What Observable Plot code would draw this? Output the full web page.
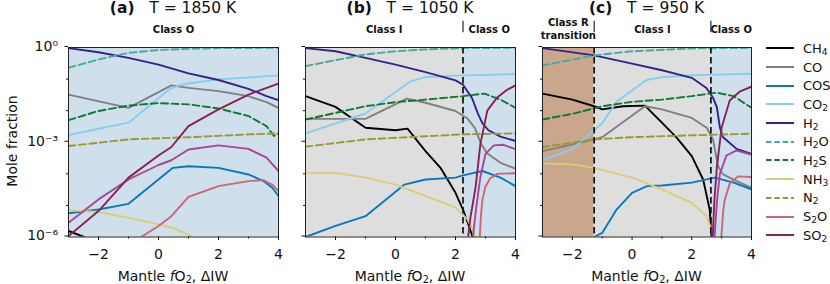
<!DOCTYPE html>
<html><head><meta charset="utf-8">
<script src="https://cdn.jsdelivr.net/npm/d3@7"></script>
<script src="https://cdn.jsdelivr.net/npm/@observablehq/plot@0.6"></script>
<style>
body{margin:0;background:#fff;font-family:"DejaVu Sans",sans-serif;color:#111;}
#wrap{position:relative;width:830px;height:284px;overflow:hidden;}
.panel{position:absolute;top:0;}
.title{position:absolute;top:0px;font-size:15.5px;line-height:17px;white-space:pre;transform:translateX(-50%);}
.xlab{position:absolute;top:267px;font-size:14px;line-height:18px;white-space:nowrap;transform:translateX(-50%);}
.ylab{position:absolute;left:12px;top:141px;font-size:14px;white-space:nowrap;transform:translate(-50%,-50%) rotate(-90deg);}
sub{font-size:70%;vertical-align:-0.25em;line-height:0;}
#legend{position:absolute;left:766px;top:39px;font-size:13px;}
#legend .row{height:18.7px;display:flex;align-items:center;}
#legend svg{margin-right:9px;}
</style></head>
<body><div id="wrap"></div>
<script>
// ---------- data: [ΔIW, log10(mole fraction)] ----------
const xTicks = [-2, 0, 2, 4];
const yTicks = [1, 1e-3, 1e-6];
const species = ["CH4","CO","COS","CO2","H2","H2O","H2S","NH3","N2","S2O","S2","SO2"];
const legendSpecies = ["CH4","CO","COS","CO2","H2","H2O","H2S","NH3","N2","S2O","SO2"];
const legendLabels = ["CH<sub>4</sub>","CO","COS","CO<sub>2</sub>","H<sub>2</sub>","H<sub>2</sub>O","H<sub>2</sub>S","NH<sub>3</sub>","N<sub>2</sub>","S<sub>2</sub>O","SO<sub>2</sub>"];
const titles = ["(a)", "(b)", "(c)"];
const temps = ["T = 1850 K", "T = 1050 K", "T = 950 K"];

// Panel (a) T = 1850 K
const a_CH4 = [[-3,-5.81],[-2.48,-6]];
const a_CO  = [[-3,-1.49],[-1,-1.91],[0.43,-1.20],[1,-1.28],[2,-1.38],[3,-1.54],[3.6,-1.73],[4,-1.91]];
const a_COS = [[-3,-5.25],[-2,-5.13],[-1,-4.95],[0.48,-3.81],[1,-3.76],[2,-3.81],[3,-4.02],[3.5,-4.23],[3.8,-4.45],[4,-4.70]];
const a_CO2 = [[-3,-2.77],[-1,-2.38],[0.4,-1.30],[0.7,-1.20],[1,-1.14],[2,-1.01],[3,-0.95],[4,-0.88]];
const a_H2  = [[-3,-0.02],[-2,-0.15],[-1,-0.33],[0,-0.54],[1,-0.82],[2,-1.03],[3,-1.31],[3.6,-1.54],[4,-1.67]];
const a_H2O = [[-3,-0.64],[-2,-0.38],[-1,-0.17],[0,-0.08],[1,-0.04],[2,-0.02],[4,-0.01]];
const a_H2S = [[-3,-2.30],[-2,-2.01],[-1,-1.84],[0,-1.76],[1,-1.80],[2,-1.93],[3,-2.17],[3.6,-2.49],[3.85,-2.80],[4,-2.72]];
const a_NH3 = [[-3,-5.15],[-2,-5.21],[-1,-5.39],[0,-5.60],[0.5,-5.71],[1.15,-6]];
const a_N2  = [[-3,-3.12],[-1,-2.91],[1,-2.84],[3,-2.75],[4,-2.72]];
const a_S2O = [[-0.58,-6],[0,-5.65],[0.43,-5.34],[1,-4.73],[2,-4.39],[3,-4.23],[3.5,-4.20],[3.8,-4.35],[4,-4.55]];
const a_S2  = [[-3,-5.55],[-2,-4.81],[-1,-4.18],[0,-3.72],[0.43,-3.57],[1,-3.23],[2,-3.10],[3,-3.21],[3.6,-3.49],[4,-3.91]];
const a_SO2 = [[-3,-5.97],[-2,-5.18],[-1,-4.12],[0,-3.42],[0.43,-3.15],[1,-2.49],[2,-1.96],[3,-1.49],[4,-1.14]];

// Panel (b) T = 1050 K
const b_CH4 = [[-3,-1.54],[-2,-1.88],[-1,-2.54],[0,-2.62],[0.4,-2.57],[1,-3.28],[1.5,-3.81],[2,-4.60],[2.25,-5.13],[2.45,-5.66],[2.57,-6]];
const b_CO  = [[-3,-2.26],[-1,-2.26],[0.38,-1.62],[1,-1.75],[2,-2.01],[2.4,-2.25],[2.65,-2.55],[2.85,-3.05],[3.05,-3.35],[3.5,-3.65],[4,-3.84]];
const b_COS = [[-3,-6],[-2,-5.65],[-1,-5.34],[0.3,-4.34],[1,-4.18],[2,-4.12],[2.25,-4.05],[2.9,-3.91],[3.5,-4.12],[4,-4.39]];
const b_CO2 = [[-3,-2.72],[-1,-2.09],[0.5,-1.07],[1,-0.94],[2,-0.89],[4,-0.84]];
const b_H2  = [[-3,-0.02],[-2,-0.12],[-1,-0.33],[0,-0.54],[1,-0.78],[2,-1.04],[2.25,-1.18],[2.55,-1.60],[2.75,-2.10],[2.9,-2.40],[3.1,-2.62],[3.5,-2.82],[4,-2.96]];
const b_H2O = [[-3,-0.59],[-2,-0.40],[-1,-0.22],[0,-0.12],[1,-0.06],[2.25,-0.02],[4,-0.01]];
const b_H2S = [[-3,-2.28],[-2,-2.07],[-1,-1.86],[0,-1.73],[1,-1.65],[2.25,-1.54],[2.96,-1.46],[3.5,-1.65],[4,-1.91]];
const b_NH3 = [[-3,-3.97],[-2,-3.97],[-1,-4.12],[0,-4.34],[1,-4.70],[2,-5.07],[2.4,-5.44],[2.68,-6]];
const b_N2  = [[-3,-3.14],[-1,-2.91],[1,-2.81],[2.25,-2.75],[4,-2.72]];
const b_S2O = [[2.81,-6],[2.85,-5.3],[2.9,-4.8],[3.0,-4.4],[3.15,-4.15],[3.4,-4.0],[4,-3.98]];
const b_S2  = [[2.58,-6],[2.7,-5.0],[2.83,-4.1],[3.0,-3.37],[3.28,-3.10],[3.6,-3.08],[4,-3.22]];
const b_SO2 = [[2.42,-6],[2.5,-5.37],[2.67,-4.42],[2.83,-3.05],[3.06,-2.0],[3.39,-1.58],[3.7,-1.35],[4,-1.20]];

// Panel (c) T = 950 K
const c_CH4 = [[-3,-1.46],[-2,-1.65],[-1.27,-1.86],[-1,-1.96],[-0.3,-1.86],[0.43,-1.84],[1,-2.38],[1.5,-2.86],[2,-3.44],[2.38,-4.18],[2.6,-5.13],[2.66,-6]];
const c_CO  = [[-3,-3.28],[-1.27,-2.91],[-1,-2.84],[0.43,-1.86],[1,-1.96],[2,-2.23],[2.5,-2.54],[2.71,-2.91],[2.88,-3.76],[3.05,-4.02],[3.5,-4.23],[4,-4.44]];
const c_COS = [[-1.27,-6],[-1,-5.87],[-0.52,-5.13],[0,-4.6],[0.5,-4.39],[1,-4.37],[2,-4.28],[2.77,-4.12],[3.4,-4.28],[4,-4.49]];
const c_CO2 = [[-3,-3.57],[-2,-3.21],[-1,-2.40],[-0.52,-1.72],[0.48,-1.03],[1,-0.94],[2,-0.88],[4,-0.83]];
const c_H2  = [[-3,-0.02],[-1.27,-0.25],[0,-0.51],[1,-0.72],[2,-0.96],[2.49,-1.28],[2.71,-1.59],[2.84,-1.89],[2.94,-2.53],[3.05,-2.84],[3.5,-3.21],[4,-3.37]];
const c_H2O = [[-3,-0.57],[-1.27,-0.25],[0,-0.12],[2,-0.03],[4,-0.01]];
const c_H2S = [[-3,-2.28],[-2,-2.10],[-1,-1.86],[0,-1.72],[1,-1.65],[2,-1.54],[2.83,-1.43],[3.4,-1.54],[4,-1.91]];
const c_NH3 = [[-3,-3.67],[-2,-3.70],[-1.27,-3.81],[0,-4.12],[1,-4.49],[2,-4.92],[2.49,-5.34],[2.66,-5.76],[2.72,-6]];
const c_N2  = [[-3,-3.15],[-1.27,-2.91],[0,-2.84],[2,-2.78],[4,-2.73]];
const c_S2O = [[2.99,-6],[3.05,-5.2],[3.1,-4.84],[3.27,-4.31],[3.55,-4.08],[4,-4.10]];
const c_S2  = [[2.76,-6],[2.85,-4.8],[2.94,-4.0],[3.16,-3.42],[3.5,-3.26],[4,-3.39]];
const c_SO2 = [[2.7,-6],[2.76,-4.8],[2.84,-3.79],[3.0,-2.53],[3.27,-1.68],[3.6,-1.40],[4,-1.24]];

// regime regions (ΔIW bounds) and boundaries
const regionsA = [{cls:"O", x1:-3, x2:4, label:"Class O"}];
const regionsB = [{cls:"I", x1:-3, x2:2.25, label:"Class I"},{cls:"O", x1:2.25, x2:4, label:"Class O"}];
const regionsC = [{cls:"R", x1:-3, x2:-1.27, label:"Class R\ntransition"},{cls:"I", x1:-1.27, x2:2.64, label:"Class I"},{cls:"O", x1:2.64, x2:4, label:"Class O"}];
const boundsA = [];
const boundsB = [2.25];
const boundsC = [-1.27, 2.64];

// ---------- styles ----------
const colors = {CH4:"#000000",CO:"#808080",COS:"#0b78bb",CO2:"#88ccee",H2:"#332288",H2O:"#44aa99",H2S:"#117733",NH3:"#ddcc77",N2:"#999933",S2O:"#cc6677",S2:"#aa4499",SO2:"#882255"};
const dashedSet = new Set(["H2O","H2S","N2"]);
const bg = {O:"#cfdfeb", I:"#dedede", R:"#c9a68c"};

const seriesA = {CH4:a_CH4,CO:a_CO,COS:a_COS,CO2:a_CO2,H2:a_H2,H2O:a_H2O,H2S:a_H2S,NH3:a_NH3,N2:a_N2,S2O:a_S2O,S2:a_S2,SO2:a_SO2};
const seriesB = {CH4:b_CH4,CO:b_CO,COS:b_COS,CO2:b_CO2,H2:b_H2,H2O:b_H2O,H2S:b_H2S,NH3:b_NH3,N2:b_N2,S2O:b_S2O,S2:b_S2,SO2:b_SO2};
const seriesC = {CH4:c_CH4,CO:c_CO,COS:c_COS,CO2:c_CO2,H2:c_H2,H2O:c_H2O,H2S:c_H2S,NH3:c_NH3,N2:c_N2,S2O:c_S2O,S2:c_S2,SO2:c_SO2};

const supMap = {"0":"⁰","3":"³","6":"⁶","-":"⁻"};
const fmtY = d => "10" + String(Math.round(Math.log10(d))).split("").map(c => supMap[c] || c).join("");
const fmtX = d => d < 0 ? "−" + (-d) : String(d);

function makePanel(series, regions, bounds, {width, ml, mr, showY}) {
  const marks = [
    Plot.rect(regions, {x1:"x1", x2:"x2", y1:() => 1e-6, y2:() => 1, fill: d => bg[d.cls]})
  ];
  for (const s of species) {
    const rows = series[s].map(([x, ly]) => ({x, y: Math.pow(10, ly)}));
    marks.push(Plot.line(rows, {x:"x", y:"y", stroke: colors[s], strokeWidth: 1.9,
      strokeDasharray: dashedSet.has(s) ? "7,3.5" : null, clip: true, strokeLinejoin:"round"}));
  }
  marks.push(
    Plot.ruleX(bounds, {x: d => d, stroke:"#111", strokeWidth:1.7, strokeDasharray:"6.5,3.5"}),
    Plot.frame({stroke:"#222", strokeWidth:1}),
    Plot.axisY({ticks: yTicks, tickSize: 3.5, tickPadding: 7, tickFormat: showY ? fmtY : () => "", label: null, fontSize: 14, dy: -1}),
    Plot.axisY({ticks: [1e-1,1e-2,1e-4,1e-5], tickSize: 2, tickFormat: () => "", label: null}),
    Plot.axisX({ticks: xTicks, tickSize: 3.5, tickPadding: 8.5, tickFormat: fmtX, label: null, fontSize: 14}),
    Plot.axisX({ticks: [-1,1,3], tickSize: 2, tickFormat: () => "", label: null}),
    Plot.text(regions, {x: d => (d.x1 + d.x2) / 2, text: "label", frameAnchor: "top", dy: -19,
      lineAnchor: "middle", fontWeight: "bold", fontSize: 10, lineHeight: 1.25, fill: "#111"}),
    // small "|" markers above the frame at each regime boundary
    Plot.ruleX(bounds, {x: d => d, y1: () => Math.pow(10, 0.47), y2: () => Math.pow(10, 0.83), stroke: "#111", strokeWidth: 1.1})
  );
  return Plot.plot({
    width, height: 284, marginLeft: ml, marginRight: mr, marginTop: 47, marginBottom: 47.5,
    x: {domain: [-3, 4]},
    y: {type: "log", domain: [1e-6, 1]},
    style: {background: "transparent", overflow: "visible", fontFamily: "DejaVu Sans", fontSize: "14px", color: "#111"},
    marks
  });
}

const wrap = document.getElementById("wrap");
const layout = [
  {left: 0,   width: 292, ml: 68, mr: 14, showY: true,  series: seriesA, regions: regionsA, bounds: boundsA},
  {left: 292, width: 238, ml: 13, mr: 15, showY: false, series: seriesB, regions: regionsB, bounds: boundsB},
  {left: 530, width: 235, ml: 12, mr: 14, showY: false, series: seriesC, regions: regionsC, bounds: boundsC}
];
layout.forEach((p, i) => {
  const svg = makePanel(p.series, p.regions, p.bounds, p);
  svg.classList.add("panel");
  svg.style.left = p.left + "px";
  wrap.appendChild(svg);
  const cx = p.left + p.ml + (p.width - p.ml - p.mr) / 2;
  const t = document.createElement("div");
  t.className = "title";
  t.style.left = cx + "px";
  t.innerHTML = "<b>" + titles[i] + "</b>   " + temps[i];
  wrap.appendChild(t);
  const xl = document.createElement("div");
  xl.className = "xlab";
  xl.style.left = cx + "px";
  xl.innerHTML = "Mantle <i>f</i>O<sub>2</sub>, ΔIW";
  wrap.appendChild(xl);
});
const yl = document.createElement("div");
yl.className = "ylab";
yl.textContent = "Mole fraction";
wrap.appendChild(yl);

const lg = document.createElement("div");
lg.id = "legend";
legendSpecies.forEach((s, i) => {
  const row = document.createElement("div");
  row.className = "row";
  row.innerHTML = `<svg width="28" height="6"><line x1="0" x2="28" y1="3" y2="3" stroke="${colors[s]}" stroke-width="2" ${dashedSet.has(s) ? 'stroke-dasharray="5.5,2.8"' : ''}/></svg><span>${legendLabels[i]}</span>`;
  lg.appendChild(row);
});
wrap.appendChild(lg);
</script>
</body></html>
